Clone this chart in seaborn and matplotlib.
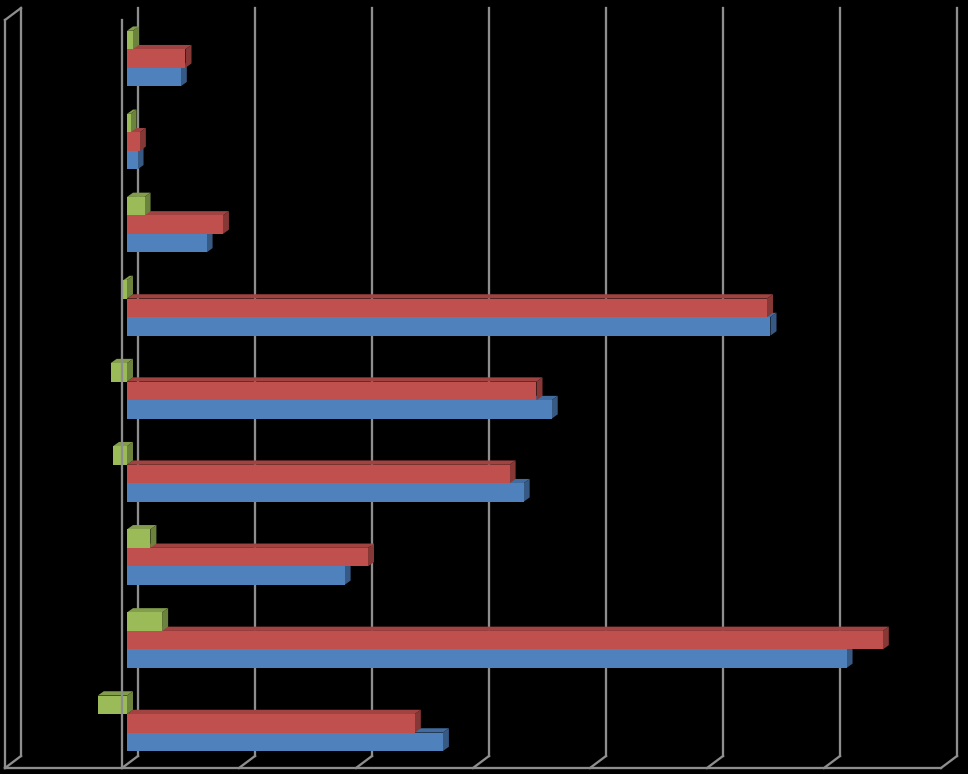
import numpy as np
import pandas as pd
import seaborn as sns
import matplotlib.pyplot as plt
from matplotlib.patches import Polygon
from matplotlib.colors import to_rgb

# values (no labels shown in the original)
categories = ['Cat 1', 'Cat 2', 'Cat 3', 'Cat 4', 'Cat 5', 'Cat 6', 'Cat 7', 'Cat 8', 'Cat 9']
series_1 = [0.46, 0.09, 0.68, 5.50, 3.63, 3.39, 1.86, 6.15, 2.70]
series_2 = [0.50, 0.11, 0.82, 5.47, 3.50, 3.27, 2.06, 6.46, 2.46]
series_3 = [0.05, 0.03, 0.15, -0.03, -0.14, -0.12, 0.20, 0.30, -0.25]
grid_ticks = list(range(-1, 8))

colors = {'Series 1': '#4F81BD', 'Series 2': '#C0504D', 'Series 3': '#9BBB59'}

df = pd.DataFrame({
    'category': categories * 3,
    'value': series_1 + series_2 + series_3,
    'series': ['Series 1'] * 9 + ['Series 2'] * 9 + ['Series 3'] * 9,
})

# pixel geometry of the fake 3d box
W, H = 968, 774
PX_X, PX_Y = 117.0, 83.1      # px per value unit / per category
X0, Y0 = 127.0, 58.5          # px of value 0 / first category centre

fig = plt.figure(figsize=(W / 100, H / 100), dpi=100, facecolor='black')
ax = fig.add_axes([0, 0, 1, 1])
ax.set_facecolor('black')

sns.barplot(data=df, x='value', y='category', hue='series', orient='h',
            hue_order=['Series 3', 'Series 2', 'Series 1'], palette=colors,
            width=0.668, saturation=1, errorbar=None, legend=False,
            linewidth=0, ax=ax)

ax.set_xlim(-X0 / PX_X, (W - X0) / PX_X)
ax.set_ylim((H - Y0) / PX_Y, -Y0 / PX_Y)
ax.set_axis_off()

# depth of bars
ddx, ddy = 6 / PX_X, -4.3 / PX_Y
for p in list(ax.patches):
    x0, x1 = sorted([p.get_x(), p.get_x() + p.get_width()])
    y0, y1 = p.get_y(), p.get_y() + p.get_height()
    if x1 - x0 < 1e-9:
        continue
    c = np.array(to_rgb(p.get_facecolor()))
    z = 20 - y0
    p.set_zorder(z)
    p.set_edgecolor('none')
    top = Polygon([(x0, y0), (x1, y0), (x1 + ddx, y0 + ddy), (x0 + ddx, y0 + ddy)],
                  closed=True, facecolor=c * 0.84, edgecolor='none', zorder=z - 0.01)
    side = Polygon([(x1, y0), (x1, y1), (x1 + ddx, y1 + ddy), (x1 + ddx, y0 + ddy)],
                   closed=True, facecolor=c * 0.7, edgecolor='none', zorder=z - 0.01)
    ax.add_patch(top)
    ax.add_patch(side)

# walls and floor
gc, lw = '#8e8e8e', 1.65
fdx = -5 / PX_X
bdx, bdy = 16 / PX_X, -12 / PX_Y
ftop = (20 - Y0) / PX_Y
ffloor = (768 - Y0) / PX_Y
for v in grid_ticks:
    xf = v + fdx
    ax.plot([xf + bdx, xf + bdx], [ftop + bdy, ffloor + bdy], color=gc, lw=lw, zorder=1)
    ax.plot([xf, xf + bdx], [ffloor, ffloor + bdy], color=gc, lw=lw, zorder=1)
left = grid_ticks[0] + fdx
ax.plot([left, grid_ticks[-1] + fdx], [ffloor, ffloor], color=gc, lw=lw, zorder=1)
ax.plot([left, left], [ftop, ffloor], color=gc, lw=lw, zorder=1)
ax.plot([left, left + bdx], [ftop, ftop + bdy], color=gc, lw=lw, zorder=1)
ax.plot([fdx, fdx], [ftop, ffloor], color=gc, lw=lw, zorder=40)

fig.savefig('out.png', dpi=100, facecolor='black')
